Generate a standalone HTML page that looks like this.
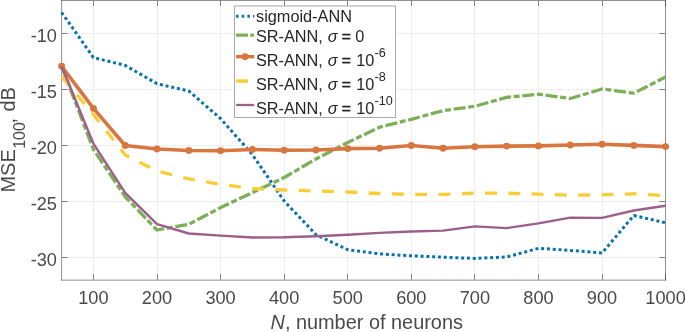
<!DOCTYPE html>
<html><head><meta charset="utf-8"><title>MSE vs number of neurons</title>
<style>
html,body{margin:0;padding:0;background:#fff;}
body{width:685px;height:332px;overflow:hidden;}
svg{display:block;}
text{font-family:"Liberation Sans", Arial, Helvetica, sans-serif;}
.it{font-style:italic;}
</style></head><body>
<svg width="685" height="332" viewBox="0 0 685 332">
<rect x="0" y="0" width="685" height="332" fill="#fff"/>
<g stroke="#eeeef0" stroke-width="1" fill="none">
<line x1="93.5" y1="0" x2="93.5" y2="280"/>
<line x1="157.5" y1="0" x2="157.5" y2="280"/>
<line x1="220.5" y1="0" x2="220.5" y2="280"/>
<line x1="284.5" y1="0" x2="284.5" y2="280"/>
<line x1="347.5" y1="0" x2="347.5" y2="280"/>
<line x1="411.5" y1="0" x2="411.5" y2="280"/>
<line x1="474.5" y1="0" x2="474.5" y2="280"/>
<line x1="538.5" y1="0" x2="538.5" y2="280"/>
<line x1="602.5" y1="0" x2="602.5" y2="280"/>
<line x1="61.5" y1="33.5" x2="665.5" y2="33.5"/>
<line x1="61.5" y1="89.5" x2="665.5" y2="89.5"/>
<line x1="61.5" y1="145.5" x2="665.5" y2="145.5"/>
<line x1="61.5" y1="201.5" x2="665.5" y2="201.5"/>
<line x1="61.5" y1="257.5" x2="665.5" y2="257.5"/>
</g>
<g stroke="#262626" stroke-opacity="0.55" stroke-width="1" fill="none">
<line x1="93.5" y1="279.7" x2="93.5" y2="274"/>
<line x1="93.5" y1="1" x2="93.5" y2="6"/>
<line x1="157.5" y1="279.7" x2="157.5" y2="274"/>
<line x1="157.5" y1="1" x2="157.5" y2="6"/>
<line x1="220.5" y1="279.7" x2="220.5" y2="274"/>
<line x1="220.5" y1="1" x2="220.5" y2="6"/>
<line x1="284.5" y1="279.7" x2="284.5" y2="274"/>
<line x1="284.5" y1="1" x2="284.5" y2="6"/>
<line x1="347.5" y1="279.7" x2="347.5" y2="274"/>
<line x1="347.5" y1="1" x2="347.5" y2="6"/>
<line x1="411.5" y1="279.7" x2="411.5" y2="274"/>
<line x1="411.5" y1="1" x2="411.5" y2="6"/>
<line x1="474.5" y1="279.7" x2="474.5" y2="274"/>
<line x1="474.5" y1="1" x2="474.5" y2="6"/>
<line x1="538.5" y1="279.7" x2="538.5" y2="274"/>
<line x1="538.5" y1="1" x2="538.5" y2="6"/>
<line x1="602.5" y1="279.7" x2="602.5" y2="274"/>
<line x1="602.5" y1="1" x2="602.5" y2="6"/>
<line x1="665.5" y1="279.7" x2="665.5" y2="274"/>
<line x1="665.5" y1="1" x2="665.5" y2="6.5"/>
<line x1="62.1" y1="33.5" x2="67.5" y2="33.5"/>
<line x1="665" y1="33.5" x2="659.5" y2="33.5"/>
<line x1="62.1" y1="89.5" x2="67.5" y2="89.5"/>
<line x1="665" y1="89.5" x2="659.5" y2="89.5"/>
<line x1="62.1" y1="145.5" x2="67.5" y2="145.5"/>
<line x1="665" y1="145.5" x2="659.5" y2="145.5"/>
<line x1="62.1" y1="201.5" x2="67.5" y2="201.5"/>
<line x1="665" y1="201.5" x2="659.5" y2="201.5"/>
<line x1="62.1" y1="257.5" x2="67.5" y2="257.5"/>
<line x1="665" y1="257.5" x2="659.5" y2="257.5"/>
</g>
<g stroke="#262626" stroke-opacity="0.5" stroke-width="1" fill="none">
<line x1="61.6" y1="0" x2="61.6" y2="280.4"/>
<line x1="61.1" y1="280.15" x2="666" y2="280.15"/>
<line x1="665.5" y1="0" x2="665.5" y2="280.4"/>
<line x1="61.1" y1="0.5" x2="666" y2="0.5"/>
</g>
<g fill="none" stroke-linejoin="round">
<polyline points="61.65,12.50 93.44,57.60 125.22,65.40 157.01,83.70 188.80,91.00 220.58,118.60 252.37,154.60 284.16,201.00 315.94,234.60 347.73,249.70 379.52,253.90 411.31,255.80 443.09,257.20 474.88,258.40 506.67,257.00 538.45,248.30 570.24,250.40 602.03,253.00 633.81,215.50 665.60,222.80" stroke="#0872B0" stroke-width="3" stroke-dasharray="3 2.8"/>
<polyline points="61.65,66.30 93.44,149.40 125.22,196.90 157.01,230.00 188.80,224.30 220.58,207.60 252.37,192.60 284.16,177.50 315.94,159.00 347.73,142.50 379.52,127.20 411.31,119.30 443.09,110.60 474.88,106.30 506.67,97.30 538.45,94.20 570.24,98.50 602.03,89.00 633.81,93.20 665.60,77.00" stroke="#7DAF58" stroke-width="3.3" stroke-dasharray="12 2.7 6 2.7"/>
<polyline points="61.65,66.30 93.44,108.40 125.22,145.50 157.01,149.00 188.80,150.50 220.58,150.80 252.37,149.50 284.16,150.30 315.94,150.00 347.73,148.60 379.52,148.30 411.31,145.50 443.09,148.20 474.88,146.80 506.67,146.10 538.45,145.90 570.24,145.00 602.03,144.30 633.81,145.40 665.60,146.60" stroke="#D7773F" stroke-width="3.6"/>
</g>
<g fill="#D7773F">
<circle cx="61.65" cy="66.30" r="3.45"/>
<circle cx="93.44" cy="108.40" r="3.45"/>
<circle cx="125.22" cy="145.50" r="3.45"/>
<circle cx="157.01" cy="149.00" r="3.45"/>
<circle cx="188.80" cy="150.50" r="3.45"/>
<circle cx="220.58" cy="150.80" r="3.45"/>
<circle cx="252.37" cy="149.50" r="3.45"/>
<circle cx="284.16" cy="150.30" r="3.45"/>
<circle cx="315.94" cy="150.00" r="3.45"/>
<circle cx="347.73" cy="148.60" r="3.45"/>
<circle cx="379.52" cy="148.30" r="3.45"/>
<circle cx="411.31" cy="145.50" r="3.45"/>
<circle cx="443.09" cy="148.20" r="3.45"/>
<circle cx="474.88" cy="146.80" r="3.45"/>
<circle cx="506.67" cy="146.10" r="3.45"/>
<circle cx="538.45" cy="145.90" r="3.45"/>
<circle cx="570.24" cy="145.00" r="3.45"/>
<circle cx="602.03" cy="144.30" r="3.45"/>
<circle cx="633.81" cy="145.40" r="3.45"/>
<circle cx="665.60" cy="146.60" r="3.45"/>
</g>
<g fill="none" stroke-linejoin="round">
<polyline points="61.65,76.50 93.44,114.50 125.22,155.00 157.01,171.00 188.80,178.90 220.58,184.30 252.37,188.60 284.16,190.00 315.94,191.00 347.73,192.00 379.52,193.50 411.31,194.50 443.09,194.30 474.88,193.20 506.67,193.20 538.45,194.10 570.24,195.30 602.03,194.80 633.81,193.80 665.60,195.70" stroke="#FBCD34" stroke-width="3.3" stroke-dasharray="11.9 11.4" stroke-dashoffset="-0.5"/>
<polyline points="61.65,66.30 93.44,143.70 125.22,192.80 157.01,224.20 188.80,233.50 220.58,235.60 252.37,237.50 284.16,237.30 315.94,236.20 347.73,234.70 379.52,232.90 411.31,231.50 443.09,230.60 474.88,226.40 506.67,228.10 538.45,223.40 570.24,217.60 602.03,217.90 633.81,210.50 665.60,205.80" stroke="#9E5E8C" stroke-width="2.4"/>
</g>
<g fill="#4a4a4a" font-size="18.2" text-anchor="end">
<text x="57.0" y="41.60">-10</text>
<text x="57.0" y="97.60">-15</text>
<text x="57.0" y="153.60">-20</text>
<text x="57.0" y="209.60">-25</text>
<text x="57.0" y="265.60">-30</text>
</g>
<g fill="#4a4a4a" font-size="18.2" text-anchor="middle">
<text x="93.44" y="303.7">100</text>
<text x="157.01" y="303.7">200</text>
<text x="220.58" y="303.7">300</text>
<text x="284.16" y="303.7">400</text>
<text x="347.73" y="303.7">500</text>
<text x="411.31" y="303.7">600</text>
<text x="474.88" y="303.7">700</text>
<text x="538.45" y="303.7">800</text>
<text x="602.03" y="303.7">900</text>
<text x="665.60" y="303.7">1000</text>
</g>
<text x="270.5" y="328.5" font-size="19.9" fill="#4a4a4a"><tspan class="it">N</tspan>, number of neurons</text>
<g transform="rotate(-90)" fill="#4a4a4a">
<text x="-192.6" y="15.1" font-size="20">MSE</text>
<text x="-148.8" y="25.1" font-size="16">100</text>
<text x="-123.4" y="15.1" font-size="20">,</text>
<text x="-111.6" y="15.1" font-size="20">dB</text>
</g>
<rect x="234.5" y="6.0" width="161" height="111.5" fill="#fff" stroke="#a8a8a8" stroke-width="1"/>
<line x1="236" y1="16.2" x2="254.3" y2="16.2" stroke="#0872B0" stroke-width="3" stroke-dasharray="2.5 3.2"/>
<line x1="236" y1="35.1" x2="254" y2="35.1" stroke="#7DAF58" stroke-width="3.1" stroke-dasharray="12 2.3 4 3"/>
<line x1="236" y1="56.7" x2="254.3" y2="56.7" stroke="#D7773F" stroke-width="3.4"/>
<circle cx="245.0" cy="56.7" r="3.4" fill="#D7773F"/>
<line x1="236.1" y1="81" x2="248" y2="81" stroke="#FBCD34" stroke-width="3.4"/>
<line x1="236.1" y1="105" x2="254.2" y2="105" stroke="#9E5E8C" stroke-width="2.3"/>
<g fill="#262626" font-size="16.3">
<text x="256.0" y="22.4">sigmoid-ANN</text>
<text x="255.9" y="41.6">SR-ANN,</text>
<text x="327.8" y="41.9" class="it">σ</text>
<text x="341.5" y="42.1" stroke="#262626" stroke-width="0.3">=</text>
<text x="355.3" y="41.6">0</text>
<text x="255.9" y="65.8">SR-ANN,</text>
<text x="327.8" y="66.1" class="it">σ</text>
<text x="341.5" y="66.3" stroke="#262626" stroke-width="0.3">=</text>
<text x="356.3" y="65.8">10</text>
<text x="374.5" y="57.0" font-size="12.6">-6</text>
<text x="255.9" y="89.7">SR-ANN,</text>
<text x="327.8" y="90.0" class="it">σ</text>
<text x="341.5" y="90.2" stroke="#262626" stroke-width="0.3">=</text>
<text x="356.3" y="89.7">10</text>
<text x="374.5" y="80.9" font-size="12.6">-8</text>
<text x="255.9" y="113.8">SR-ANN,</text>
<text x="327.8" y="114.1" class="it">σ</text>
<text x="341.5" y="114.3" stroke="#262626" stroke-width="0.3">=</text>
<text x="356.3" y="113.8">10</text>
<text x="374.5" y="105.0" font-size="12.6">-10</text>
</g>
</svg>
</body></html>
